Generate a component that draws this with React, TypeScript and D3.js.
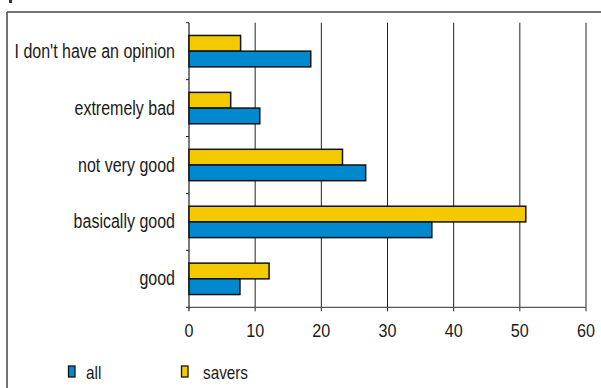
import React from "react";
import * as d3 from "d3";

const categories = ["I don't have an opinion", "extremely bad", "not very good", "basically good", "good"];
const seriesNames = ["savers", "all"];
const saversValues = [7.8, 6.3, 23.2, 50.9, 12.1];
const allValues = [18.4, 10.7, 26.7, 36.7, 7.7];
const xTicks = [0, 10, 20, 30, 40, 50, 60];
const legendItems = ["all", "savers"];

const colors: Record<string, string> = { all: "#0089CF", savers: "#F5C900" };
const FONT = "'Liberation Sans', Arial, sans-serif";
const SX = 0.85;
const SXL = 0.8;

export default function App() {
  const W = 601, H = 388;
  const x = d3.scaleLinear().domain([0, 60]).range([189, 586]);
  const y = d3.scaleBand<string>().domain(categories).range([22.7, 307.3]);
  const inner = d3.scaleBand<string>().domain(seriesNames).range([0, 31.4]);
  const groupOffset = (y.bandwidth() - 31.4) / 2;
  const vals: Record<string, number[]> = { savers: saversValues, all: allValues };
  const y0 = 22.7, y1 = 307.3;
  const catBounds = categories.map((c) => y(c) as number).concat([y1]);

  return (
    <svg width={W} height={H} style={{ position: "absolute", left: 0, top: 0, background: "#fff" }}>
      <rect x={9} y={0} width={3} height={3} fill="#333" />
      {/* frame */}
      <line x1={7} x2={W} y1={12} y2={12} stroke="#444" strokeWidth={1.5} />
      <line x1={7} x2={7} y1={12} y2={H} stroke="#444" strokeWidth={1.5} />
      {/* gridlines */}
      {xTicks.slice(1).map((t) => (
        <line key={t} x1={x(t)} x2={x(t)} y1={y0} y2={y1 + 4} stroke="#222" strokeWidth={1} />
      ))}
      {/* bottom axis */}
      <line x1={x(0)} x2={x(60)} y1={y1} y2={y1} stroke="#555" strokeWidth={1.2} />
      <line x1={x(0)} x2={x(0)} y1={y0} y2={y1 + 4} stroke="#222" strokeWidth={1.2} />
      {catBounds.map((b, i) => (
        <line key={i} x1={x(0) - 3} x2={x(0)} y1={b} y2={b} stroke="#222" strokeWidth={1} />
      ))}
      {xTicks.map((t) => (
        <text
          key={t}
          transform={`translate(${x(t)},337) scale(${SX},1)`}
          textAnchor="middle"
          fontFamily={FONT}
          fontSize={19}
          fill="#1a1a1a"
        >
          {t}
        </text>
      ))}
      {/* bars */}
      {categories.map((c, i) => (
        <g key={c}>
          {seriesNames.map((s) => (
            <rect
              key={s}
              x={x(0)}
              y={(y(c) as number) + groupOffset + (inner(s) as number)}
              width={x(vals[s][i]) - x(0)}
              height={inner.bandwidth()}
              fill={colors[s]}
              stroke="#111"
              strokeWidth={1.5}
            />
          ))}
          <text
            transform={`translate(175,${(y(c) as number) + y.bandwidth() / 2 + 6.5}) scale(${SXL},1)`}
            textAnchor="end"
            fontFamily={FONT}
            fontSize={20}
            fill="#1a1a1a"
          >
            {c}
          </text>
        </g>
      ))}
      {/* legend */}
      {legendItems.map((s, i) => (
        <g key={s} transform={`translate(${i === 0 ? 68 : 181},0)`}>
          <rect x={0.5} y={366} width={6.5} height={11} fill={colors[s]} stroke="#111" strokeWidth={1.3} />
          <text
            transform={`translate(${i === 0 ? 18 : 22},379) scale(${SX},1)`}
            fontFamily={FONT}
            fontSize={18}
            fill="#1a1a1a"
          >
            {s}
          </text>
        </g>
      ))}
    </svg>
  );
}
